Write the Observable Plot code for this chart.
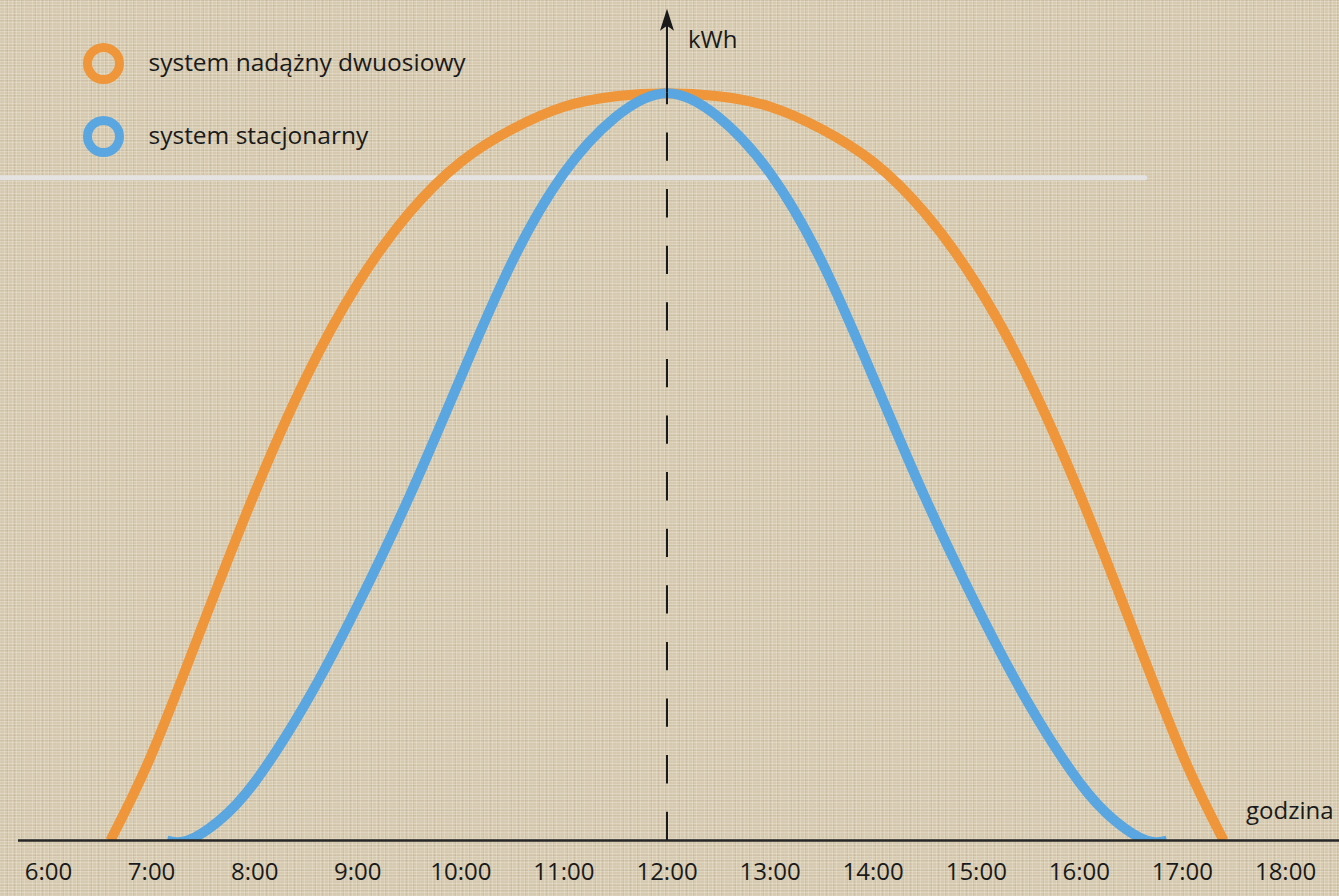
<!DOCTYPE html>
<html><head><meta charset="utf-8">
<script src="https://cdn.jsdelivr.net/npm/d3@7"></script>
<script src="https://cdn.jsdelivr.net/npm/@observablehq/plot@0.6"></script>
<style>
html,body{margin:0;padding:0;}
body{width:1339px;height:896px;overflow:hidden;background-color:#d6c9ae;
background-image:
 repeating-linear-gradient(0deg, rgba(255,252,242,0.22) 0 1px, transparent 1px 3px),
 repeating-linear-gradient(90deg, rgba(255,252,242,0.20) 0 1px, transparent 1px 4px),
 repeating-linear-gradient(0deg, rgba(110,95,75,0.08) 0 1px, transparent 1px 5px),
 repeating-linear-gradient(90deg, rgba(110,95,75,0.09) 0 1px, transparent 1px 7px);
font-family:"Open Sans",sans-serif;}
#chart{position:absolute;left:0;top:0;}
</style></head><body><div id="chart"></div>
<script>
// ---- data ----
const hourTicks = [6,7,8,9,10,11,12,13,14,15,16,17,18];
const seriesNames = ["system nadążny dwuosiowy", "system stacjonarny"];
const seriesColors = ["#ee9639", "#5aa6e0"];

// system nadążny dwuosiowy (two-axis tracker)
const trackerHours = [6.6, 7, 7.5, 8, 8.5, 9, 9.5, 10, 10.5, 11, 11.5, 12, 12.5, 13, 13.5, 14, 14.5, 15, 15.5, 16, 16.5, 17, 17.4];
const trackerKwh   = [0, 11.5, 29, 46.5, 62, 74.5, 84, 90.8, 95.2, 98.2, 99.6, 100, 99.6, 98.2, 95.2, 90.8, 84, 74.5, 62, 46.5, 29, 11.5, 0];

// system stacjonarny (fixed)
const fixedHours = [7.15, 7.35, 7.65, 8, 8.5, 9, 9.5, 10, 10.5, 11, 11.5, 12, 12.5, 13, 13.5, 14, 14.5, 15, 15.5, 16, 16.35, 16.65, 16.85];
const fixedKwh   = [0, 0, 2.6, 7.8, 18.5, 31.5, 46, 62, 77.5, 89.3, 96.8, 100, 96.8, 89.3, 77.5, 62, 46, 31.5, 18.5, 7.8, 2.6, 0, 0];

const peakHour = 12;
const peakKwh = 100;
const arrowTipKwh = 111.3;
const whiteLineKwh = 88.7;
const whiteLineHours = [5.5, 16.64];
const axisTitleY = "kWh";
const axisTitleX = "godzina";

// ---- build tables ----
const tracker = trackerHours.map((h, i) => ({hour: h, kwh: trackerKwh[i]}));
const fixed = fixedHours.map((h, i) => ({hour: h, kwh: fixedKwh[i]}));

const arrowHead = {
  draw(context, size) {
    const s = Math.sqrt(size / Math.PI) / 7;
    context.moveTo(0, 0);
    context.lineTo(7 * s, 22 * s);
    context.lineTo(0, 17 * s);
    context.lineTo(-7 * s, 22 * s);
    context.closePath();
  }
};

const ink = "#1a1a1a";

const chart = Plot.plot({
  width: 1339,
  height: 896,
  marginLeft: 48,
  marginRight: 54,
  marginTop: 18,
  marginBottom: 56,
  style: {background: "transparent", fontFamily: "'Open Sans', sans-serif", overflow: "visible", color: ink},
  x: {domain: [6, 18]},
  y: {domain: [0, 110], axis: null},
  marks: [
    Plot.ruleY([whiteLineKwh], {x1: whiteLineHours[0], x2: whiteLineHours[1], stroke: "#e4e3e1", strokeWidth: 5, strokeLinecap: "round"}),
    Plot.line(tracker, {x: "hour", y: "kwh", stroke: seriesColors[0], strokeWidth: 10, curve: "natural", clip: "frame", strokeLinecap: "butt"}),
    Plot.line(fixed, {x: "hour", y: "kwh", stroke: seriesColors[1], strokeWidth: 10, curve: "natural", clip: "frame", strokeLinecap: "butt"}),
    Plot.ruleY([0], {stroke: "#262626", strokeWidth: 2.5, insetLeft: -30, insetRight: -54}),
    Plot.ruleX([peakHour], {y1: 0, y2: peakKwh, stroke: ink, strokeWidth: 2, strokeDasharray: "28.3,28.3"}),
    Plot.ruleX([peakHour], {y1: peakKwh, y2: arrowTipKwh - 1.5, stroke: ink, strokeWidth: 2}),
    Plot.dot([peakHour], {x: d => d, y: () => arrowTipKwh, symbol: arrowHead, r: 7, fill: ink, stroke: "none"}),
    Plot.text([axisTitleY], {x: () => peakHour, y: () => arrowTipKwh, text: d => d, dx: 21, dy: 39, textAnchor: "start", lineAnchor: "bottom", fontSize: 24, fill: ink}),
    Plot.text([axisTitleX], {frameAnchor: "bottom-right", text: d => d, dx: 48, dy: -22, textAnchor: "end", lineAnchor: "bottom", fontSize: 24, fill: ink}),
    Plot.axisX({ticks: hourTicks, tickFormat: h => `${h}:00`, tickSize: 0, tickPadding: 22, fontSize: 24, fill: ink, label: null}),
    ...seriesNames.flatMap((name, i) => [
      Plot.dot([name], {frameAnchor: "top-left", dx: 55, dy: 45 + i * 73, r: 16, stroke: seriesColors[i], strokeWidth: 9, fill: "none"}),
      Plot.text([name], {frameAnchor: "top-left", text: d => d, dx: 100, dy: 45 + i * 73, textAnchor: "start", lineAnchor: "middle", fontSize: 24.5, fill: ink})
    ])
  ]
});
document.getElementById("chart").append(chart);
</script></body></html>
